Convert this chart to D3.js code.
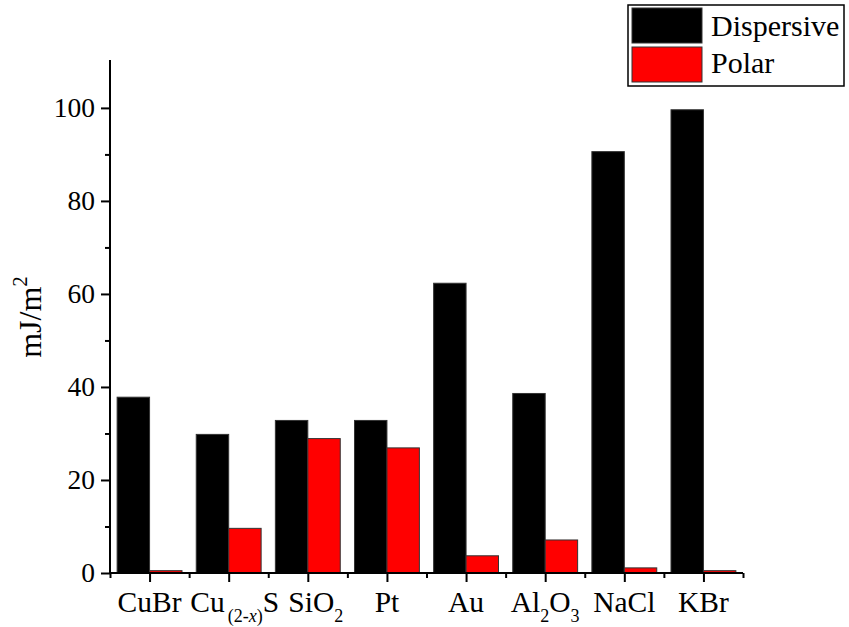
<!DOCTYPE html>
<html>
<head>
<meta charset="utf-8">
<script src="https://cdn.jsdelivr.net/npm/d3@7/dist/d3.min.js"></script>
<style>
  html, body { margin: 0; padding: 0; background: #fff; }
  svg { display: block; font-family: "Liberation Serif", "Times New Roman", serif; }
</style>
</head>
<body>
<svg id="chart" width="849" height="627"></svg>
<script>
// ---- data ----
const categories = ["CuBr", "Cu(2-x)S", "SiO2", "Pt", "Au", "Al2O3", "NaCl", "KBr"];
// label segments: [text, style] where style: "" normal, "sub" subscript, "subi" italic subscript
const categoryLabels = [
  [["CuBr", ""]],
  [["Cu", ""], ["(2-", "sub"], ["x", "subi"], [")", "sub"], ["S", ""]],
  [["SiO", ""], ["2", "sub"]],
  [["Pt", ""]],
  [["Au", ""]],
  [["Al", ""], ["2", "sub"], ["O", ""], ["3", "sub"]],
  [["NaCl", ""]],
  [["KBr", ""]]
];
const seriesNames = ["Dispersive", "Polar"];
const seriesColors = ["#000000", "#ff0000"];
const dispersive = [37.8, 29.8, 32.8, 32.8, 62.3, 38.6, 90.6, 99.6];
const polar = [0.5, 9.6, 28.9, 26.9, 3.7, 7.1, 1.1, 0.5];
const yMajorTicks = [0, 20, 40, 60, 80, 100];
const yMinorTicks = [10, 30, 50, 70, 90];

// ---- layout ----
const svg = d3.select("#chart");
const pLeft = 110, pRight = 743, pTop = 60, pBottom = 573;

const x = d3.scaleBand().domain(categories).range([pLeft, pRight]).paddingInner(0).paddingOuter(0);
const y = d3.scaleLinear().domain([0, 110.3]).range([pBottom, pTop]);
const bw = x.bandwidth();
const barW = bw * 0.41;
const center = c => x(c) + bw / 2;

// bars
const g = svg.append("g");
g.selectAll("rect.disp").data(categories).enter().append("rect")
  .attr("class", "disp")
  .attr("x", c => center(c) - barW)
  .attr("width", barW)
  .attr("y", (c, i) => y(dispersive[i]))
  .attr("height", (c, i) => y(0) - y(dispersive[i]))
  .attr("fill", seriesColors[0])
  .attr("stroke", "#333").attr("stroke-width", 1);

g.selectAll("rect.pol").data(categories).enter().append("rect")
  .attr("class", "pol")
  .attr("x", c => center(c))
  .attr("width", barW)
  .attr("y", (c, i) => y(polar[i]))
  .attr("height", (c, i) => y(0) - y(polar[i]))
  .attr("fill", seriesColors[1])
  .attr("stroke", "#333").attr("stroke-width", 1);

// y axis
const yAxisG = svg.append("g").attr("transform", `translate(${pLeft},0)`);
yAxisG.call(d3.axisLeft(y).tickValues(yMajorTicks).tickSize(9).tickPadding(6).tickFormat(d3.format("d")));
const yMinorG = svg.append("g").attr("transform", `translate(${pLeft},0)`);
yMinorG.call(d3.axisLeft(y).tickValues(yMinorTicks).tickSize(5).tickFormat(""));
yMinorG.select(".domain").remove();
yAxisG.select(".domain").attr("d", `M0,${pTop}V${pBottom + 1}`);
[yAxisG, yMinorG].forEach(a => {
  a.selectAll("line").attr("stroke", "#000").attr("stroke-width", 2);
  a.select(".domain").attr("stroke", "#000").attr("stroke-width", 2);
});
yAxisG.selectAll("text").attr("font-family", "Liberation Serif").attr("font-size", 27.5).attr("fill", "#000");

// x axis
const xScaleLin = d3.scaleLinear().domain([-0.5, categories.length - 0.5]).range([pLeft, pRight]);
const xAxisG = svg.append("g").attr("transform", `translate(0,${pBottom})`);
xAxisG.call(d3.axisBottom(xScaleLin).tickValues(d3.range(categories.length)).tickSize(9).tickFormat(""));
xAxisG.select(".domain").attr("d", `M${pLeft - 1},0H${pRight}`);
const xMinorG = svg.append("g").attr("transform", `translate(0,${pBottom})`);
xMinorG.call(d3.axisBottom(xScaleLin).tickValues(d3.range(categories.length + 1).map(d => d - 0.5)).tickSize(5).tickFormat(""));
xMinorG.select(".domain").remove();
[xAxisG, xMinorG].forEach(a => {
  a.selectAll("line").attr("stroke", "#000").attr("stroke-width", 2);
  a.select(".domain").attr("stroke", "#000").attr("stroke-width", 2);
});

// x labels with subscripts
const labelShift = { "Cu(2-x)S": 6, "SiO2": 8 };
categoryLabels.forEach((parts, i) => {
  const t = svg.append("text")
    .attr("x", center(categories[i]) + (labelShift[categories[i]] || 0))
    .attr("y", 612)
    .attr("text-anchor", "middle")
    .attr("font-size", 29.5)
    .attr("fill", "#000");
  let prev = "";
  parts.forEach(([txt, st], j) => {
    const isSub = st.startsWith("sub");
    const wasSub = prev.startsWith("sub");
    const ts = t.append("tspan").text(txt);
    if (isSub) ts.attr("font-size", 18);
    if (st === "subi") ts.attr("font-style", "italic");
    if (isSub && !wasSub) {
      ts.attr("dy", 10);
      if (txt.startsWith("(")) ts.attr("dx", 3);
    }
    if (!isSub && wasSub) ts.attr("dy", -10);
    prev = st;
  });
});

// y axis title
const yt = svg.append("text")
  .attr("transform", `translate(41,317) rotate(-90)`)
  .attr("text-anchor", "middle")
  .attr("font-size", 32)
  .attr("fill", "#000");
yt.append("tspan").text("mJ/m");
yt.append("tspan").text("2").attr("font-size", 21).attr("dy", -14);

// legend
const lg = svg.append("g");
lg.append("rect").attr("x", 628).attr("y", 5).attr("width", 216).attr("height", 81)
  .attr("fill", "#fff").attr("stroke", "#000").attr("stroke-width", 1.5);
seriesNames.forEach((name, i) => {
  lg.append("rect").attr("x", 632).attr("y", 8 + i * 39).attr("width", 70).attr("height", 35)
    .attr("fill", seriesColors[i]).attr("stroke", "#333").attr("stroke-width", 1);
  lg.append("text").attr("x", 711).attr("y", 36 + i * 37).text(name)
    .attr("font-size", 30).attr("fill", "#000");
});
</script>
</body>
</html>
